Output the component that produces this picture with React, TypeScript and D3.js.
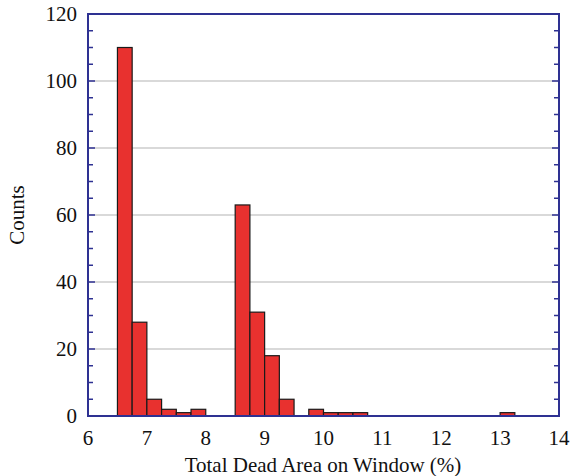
import React from "react";
import * as d3 from "d3";

// Histogram bins: left edge (% dead area) and count per bin
const binStarts = [6.5, 6.75, 7.0, 7.25, 7.5, 7.75, 8.5, 8.75, 9.0, 9.25, 9.75, 10.0, 10.25, 10.5, 13.0];
const binCounts = [110, 28, 5, 2, 1, 2, 63, 31, 18, 5, 2, 1, 1, 1, 1];
const binWidth = 0.25;

const xTicks = [6, 7, 8, 9, 10, 11, 12, 13, 14];
const yTicks = [0, 20, 40, 60, 80, 100, 120];
const yMinorTicks = d3.range(0, 121, 5);

const W = 574;
const H = 476;
const m = { left: 88, right: 15, top: 14, bottom: 60 };

export default function App() {
  const x = d3.scaleLinear().domain([6, 14]).range([m.left, W - m.right]);
  const y = d3.scaleLinear().domain([0, 120]).range([H - m.bottom, m.top]);
  const axisColor = "#2e3192";
  const font = "'Liberation Serif', 'Times New Roman', serif";
  const fs = 21;

  return (
    <svg width={W} height={H} style={{ position: "absolute", left: 0, top: 0, background: "#fff" }}>
      {/* horizontal grid */}
      {yTicks.slice(1, -1).map((t) => (
        <line key={"g" + t} x1={x(6)} x2={x(14)} y1={y(t)} y2={y(t)} stroke="#b3b3b3" strokeWidth={1.2} />
      ))}
      {/* bars */}
      {binStarts.map((s, i) => (
        <rect
          key={"b" + i}
          x={x(s)}
          y={y(binCounts[i])}
          width={x(s + binWidth) - x(s)}
          height={y(0) - y(binCounts[i])}
          fill="#e8312f"
          stroke="#1a1a1a"
          strokeWidth={1.2}
        />
      ))}
      {/* minor/major ticks on left and right */}
      {yMinorTicks.map((t) => {
        const len = t % 20 === 0 ? 7 : 5;
        return (
          <g key={"t" + t}>
            <line x1={x(6)} x2={x(6) + len} y1={y(t)} y2={y(t)} stroke={axisColor} strokeWidth={1.5} />
            <line x1={x(14)} x2={x(14) - len} y1={y(t)} y2={y(t)} stroke={axisColor} strokeWidth={1.5} />
          </g>
        );
      })}
      {/* frame */}
      <rect x={x(6)} y={y(120)} width={x(14) - x(6)} height={y(0) - y(120)} fill="none" stroke={axisColor} strokeWidth={2} />
      {/* tick labels */}
      {yTicks.map((t) => (
        <text key={"yl" + t} x={x(6) - 11} y={y(t)} dy="0.35em" textAnchor="end" fontFamily={font} fontSize={fs} fill="#111">
          {t}
        </text>
      ))}
      {xTicks.map((t) => (
        <text key={"xl" + t} x={x(t)} y={y(0) + 29} textAnchor="middle" fontFamily={font} fontSize={fs} fill="#111">
          {t}
        </text>
      ))}
      {/* axis titles */}
      <text x={x(10) - 0.5} y={H - 4} textAnchor="middle" fontFamily={font} fontSize={fs} fill="#111">
        Total Dead Area on Window (%)
      </text>
      <text transform={`translate(17, ${y(60)}) rotate(-90)`} textAnchor="middle" dy="0.35em" fontFamily={font} fontSize={fs} fill="#111">
        Counts
      </text>
    </svg>
  );
}
